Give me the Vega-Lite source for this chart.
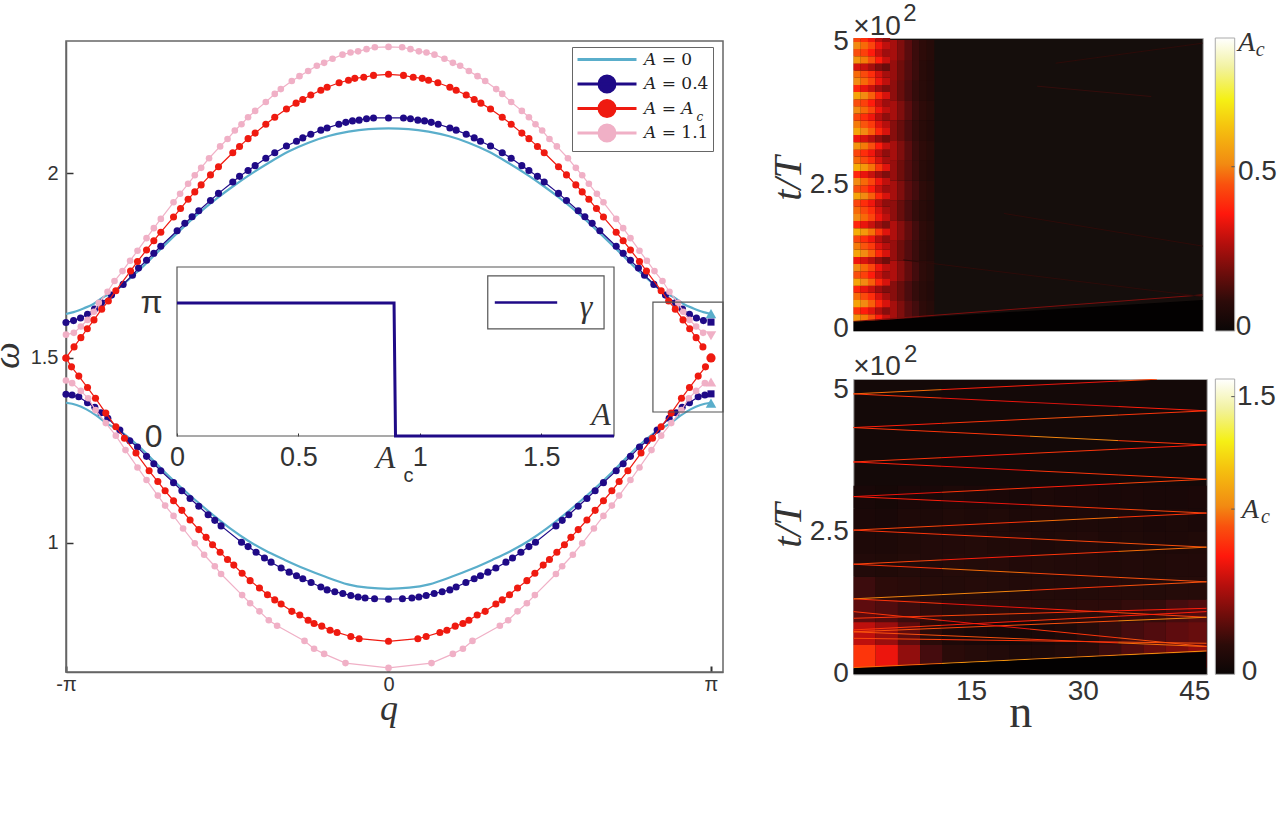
{
"$schema":"https://vega.github.io/schema/vega-lite/v6.json",
"padding":{"left":-12,"top":1,"right":0,"bottom":0},
"background":"white",
"config":{"font":"Liberation Sans","axis":{"grid":false},"legend":{"labelFont":"Liberation Sans"}},
"datasets":{
"one":[{"k":1}],
"keys":[{"s":"𝐴 = 0"},{"s":"𝐴 = 0.4"},{"s":"𝐴 = 𝐴"},{"s":"𝐴 = 1.1"}],
"gamma":[{"A":0,"g":3.1416},{"A":0.894,"g":3.1416},{"A":0.9,"g":0},{"A":1.8,"g":0}],
"cyanU":[{"q":-3.142,"w":1.619},{"q":-3.068,"w":1.624},{"q":-2.971,"w":1.634},{"q":-2.874,"w":1.646},{"q":-2.776,"w":1.665},{"q":-2.679,"w":1.677},{"q":-2.581,"w":1.7},{"q":-2.435,"w":1.736},{"q":-2.24,"w":1.789},{"q":-2.046,"w":1.841},{"q":-1.851,"w":1.891},{"q":-1.656,"w":1.935},{"q":-1.51,"w":1.965},{"q":-1.364,"w":1.993},{"q":-1.169,"w":2.027},{"q":-0.974,"w":2.058},{"q":-0.779,"w":2.082},{"q":-0.584,"w":2.1},{"q":-0.39,"w":2.112},{"q":-0.195,"w":2.119},{"q":0,"w":2.121},{"q":0.195,"w":2.119},{"q":0.39,"w":2.112},{"q":0.584,"w":2.1},{"q":0.779,"w":2.082},{"q":0.974,"w":2.058},{"q":1.169,"w":2.027},{"q":1.364,"w":1.993},{"q":1.51,"w":1.965},{"q":1.656,"w":1.935},{"q":1.851,"w":1.891},{"q":2.046,"w":1.841},{"q":2.24,"w":1.789},{"q":2.435,"w":1.736},{"q":2.581,"w":1.7},{"q":2.679,"w":1.677},{"q":2.776,"w":1.665},{"q":2.874,"w":1.646},{"q":2.971,"w":1.634},{"q":3.068,"w":1.624},{"q":3.142,"w":1.619}],
"cyanL":[{"q":-3.142,"w":1.379},{"q":-3.039,"w":1.373},{"q":-2.942,"w":1.361},{"q":-2.844,"w":1.344},{"q":-2.747,"w":1.324},{"q":-2.617,"w":1.303},{"q":-2.435,"w":1.262},{"q":-2.196,"w":1.196},{"q":-2.001,"w":1.145},{"q":-1.773,"w":1.09},{"q":-1.546,"w":1.04},{"q":-1.368,"w":1.006},{"q":-1.205,"w":0.98},{"q":-1.01,"w":0.954},{"q":-0.815,"w":0.93},{"q":-0.62,"w":0.909},{"q":-0.396,"w":0.888},{"q":-0.202,"w":0.879},{"q":0,"w":0.876},{"q":0.202,"w":0.879},{"q":0.396,"w":0.888},{"q":0.62,"w":0.909},{"q":0.815,"w":0.93},{"q":1.01,"w":0.954},{"q":1.205,"w":0.98},{"q":1.368,"w":1.006},{"q":1.546,"w":1.04},{"q":1.773,"w":1.09},{"q":2.001,"w":1.145},{"q":2.196,"w":1.196},{"q":2.435,"w":1.262},{"q":2.617,"w":1.303},{"q":2.747,"w":1.324},{"q":2.844,"w":1.344},{"q":2.942,"w":1.361},{"q":3.039,"w":1.373},{"q":3.142,"w":1.379}],
"navyU":[{"q":-3.142,"w":1.596},{"q":-3.068,"w":1.601},{"q":-3,"w":1.608},{"q":-2.932,"w":1.618},{"q":-2.864,"w":1.632},{"q":-2.796,"w":1.649},{"q":-2.698,"w":1.67},{"q":-2.585,"w":1.699},{"q":-2.494,"w":1.724},{"q":-2.435,"w":1.743},{"q":-2.357,"w":1.764},{"q":-2.286,"w":1.783},{"q":-2.218,"w":1.802},{"q":-2.059,"w":1.844},{"q":-1.984,"w":1.864},{"q":-1.913,"w":1.882},{"q":-1.848,"w":1.898},{"q":-1.734,"w":1.926},{"q":-1.656,"w":1.945},{"q":-1.517,"w":1.976},{"q":-1.451,"w":1.991},{"q":-1.368,"w":2.007},{"q":-1.299,"w":2.02},{"q":-1.195,"w":2.04},{"q":-1.108,"w":2.055},{"q":-0.994,"w":2.073},{"q":-0.896,"w":2.086},{"q":-0.835,"w":2.095},{"q":-0.757,"w":2.105},{"q":-0.659,"w":2.116},{"q":-0.598,"w":2.122},{"q":-0.484,"w":2.132},{"q":-0.416,"w":2.137},{"q":-0.351,"w":2.141},{"q":-0.286,"w":2.143},{"q":-0.214,"w":2.147},{"q":-0.146,"w":2.149},{"q":0,"w":2.149},{"q":0.146,"w":2.149},{"q":0.214,"w":2.147},{"q":0.286,"w":2.143},{"q":0.351,"w":2.141},{"q":0.416,"w":2.137},{"q":0.484,"w":2.132},{"q":0.598,"w":2.122},{"q":0.659,"w":2.116},{"q":0.757,"w":2.105},{"q":0.835,"w":2.095},{"q":0.896,"w":2.086},{"q":0.994,"w":2.073},{"q":1.108,"w":2.055},{"q":1.195,"w":2.04},{"q":1.299,"w":2.02},{"q":1.368,"w":2.007},{"q":1.451,"w":1.991},{"q":1.517,"w":1.976},{"q":1.656,"w":1.945},{"q":1.734,"w":1.926},{"q":1.848,"w":1.898},{"q":1.913,"w":1.882},{"q":1.984,"w":1.864},{"q":2.059,"w":1.844},{"q":2.218,"w":1.802},{"q":2.286,"w":1.783},{"q":2.357,"w":1.764},{"q":2.435,"w":1.743},{"q":2.494,"w":1.724},{"q":2.585,"w":1.699},{"q":2.698,"w":1.67},{"q":2.796,"w":1.649},{"q":2.864,"w":1.632},{"q":2.932,"w":1.618},{"q":3,"w":1.608},{"q":3.068,"w":1.601}],
"navyL":[{"q":-3.142,"w":1.402},{"q":-3.082,"w":1.4},{"q":-3.017,"w":1.395},{"q":-2.932,"w":1.379},{"q":-2.861,"w":1.367},{"q":-2.802,"w":1.352},{"q":-2.734,"w":1.337},{"q":-2.617,"w":1.305},{"q":-2.52,"w":1.276},{"q":-2.445,"w":1.259},{"q":-2.357,"w":1.234},{"q":-2.286,"w":1.214},{"q":-2.218,"w":1.195},{"q":-2.094,"w":1.163},{"q":-2.013,"w":1.141},{"q":-1.933,"w":1.12},{"q":-1.848,"w":1.099},{"q":-1.757,"w":1.076},{"q":-1.692,"w":1.061},{"q":-1.631,"w":1.046},{"q":-1.432,"w":1.002},{"q":-1.368,"w":0.99},{"q":-1.29,"w":0.975},{"q":-1.208,"w":0.959},{"q":-1.144,"w":0.948},{"q":-1.046,"w":0.932},{"q":-0.968,"w":0.921},{"q":-0.896,"w":0.911},{"q":-0.835,"w":0.903},{"q":-0.754,"w":0.893},{"q":-0.659,"w":0.881},{"q":-0.598,"w":0.873},{"q":-0.523,"w":0.868},{"q":-0.445,"w":0.863},{"q":-0.367,"w":0.858},{"q":-0.296,"w":0.854},{"q":-0.228,"w":0.851},{"q":-0.136,"w":0.849},{"q":0,"w":0.848},{"q":0.136,"w":0.849},{"q":0.228,"w":0.851},{"q":0.296,"w":0.854},{"q":0.367,"w":0.858},{"q":0.445,"w":0.863},{"q":0.523,"w":0.868},{"q":0.598,"w":0.873},{"q":0.659,"w":0.881},{"q":0.754,"w":0.893},{"q":0.835,"w":0.903},{"q":0.896,"w":0.911},{"q":0.968,"w":0.921},{"q":1.046,"w":0.932},{"q":1.144,"w":0.948},{"q":1.208,"w":0.959},{"q":1.29,"w":0.975},{"q":1.368,"w":0.99},{"q":1.432,"w":1.002},{"q":1.631,"w":1.046},{"q":1.692,"w":1.061},{"q":1.757,"w":1.076},{"q":1.848,"w":1.099},{"q":1.933,"w":1.12},{"q":2.013,"w":1.141},{"q":2.094,"w":1.163},{"q":2.218,"w":1.195},{"q":2.286,"w":1.214},{"q":2.357,"w":1.234},{"q":2.445,"w":1.259},{"q":2.52,"w":1.276},{"q":2.617,"w":1.305},{"q":2.734,"w":1.337},{"q":2.802,"w":1.352},{"q":2.861,"w":1.367},{"q":2.932,"w":1.379},{"q":3.017,"w":1.395},{"q":3.082,"w":1.4}],
"redU":[{"q":-3.142,"w":1.5},{"q":-3.063,"w":1.53},{"q":-2.997,"w":1.555},{"q":-2.934,"w":1.579},{"q":-2.869,"w":1.603},{"q":-2.794,"w":1.632},{"q":-2.729,"w":1.654},{"q":-2.656,"w":1.682},{"q":-2.513,"w":1.735},{"q":-2.445,"w":1.761},{"q":-2.357,"w":1.792},{"q":-2.286,"w":1.817},{"q":-2.218,"w":1.84},{"q":-2.094,"w":1.881},{"q":-2.026,"w":1.904},{"q":-1.952,"w":1.929},{"q":-1.887,"w":1.949},{"q":-1.825,"w":1.968},{"q":-1.734,"w":1.995},{"q":-1.656,"w":2.017},{"q":-1.517,"w":2.055},{"q":-1.451,"w":2.072},{"q":-1.368,"w":2.093},{"q":-1.299,"w":2.108},{"q":-1.195,"w":2.132},{"q":-1.108,"w":2.151},{"q":-0.994,"w":2.173},{"q":-0.9,"w":2.189},{"q":-0.835,"w":2.199},{"q":-0.757,"w":2.211},{"q":-0.659,"w":2.224},{"q":-0.598,"w":2.232},{"q":-0.481,"w":2.244},{"q":-0.39,"w":2.251},{"q":-0.328,"w":2.256},{"q":-0.241,"w":2.259},{"q":-0.146,"w":2.264},{"q":0,"w":2.267},{"q":0.146,"w":2.264},{"q":0.241,"w":2.259},{"q":0.328,"w":2.256},{"q":0.39,"w":2.251},{"q":0.481,"w":2.244},{"q":0.598,"w":2.232},{"q":0.659,"w":2.224},{"q":0.757,"w":2.211},{"q":0.835,"w":2.199},{"q":0.9,"w":2.189},{"q":0.994,"w":2.173},{"q":1.108,"w":2.151},{"q":1.195,"w":2.132},{"q":1.299,"w":2.108},{"q":1.368,"w":2.093},{"q":1.451,"w":2.072},{"q":1.517,"w":2.055},{"q":1.656,"w":2.017},{"q":1.734,"w":1.995},{"q":1.825,"w":1.968},{"q":1.887,"w":1.949},{"q":1.952,"w":1.929},{"q":2.026,"w":1.904},{"q":2.094,"w":1.881},{"q":2.218,"w":1.84},{"q":2.286,"w":1.817},{"q":2.357,"w":1.792},{"q":2.445,"w":1.761},{"q":2.513,"w":1.735},{"q":2.656,"w":1.682},{"q":2.729,"w":1.654},{"q":2.794,"w":1.632},{"q":2.869,"w":1.603},{"q":2.934,"w":1.579},{"q":2.997,"w":1.555},{"q":3.063,"w":1.53}],
"redL":[{"q":-3.142,"w":1.5},{"q":-3.088,"w":1.476},{"q":-3.017,"w":1.451},{"q":-2.932,"w":1.42},{"q":-2.854,"w":1.391},{"q":-2.754,"w":1.351},{"q":-2.656,"w":1.314},{"q":-2.572,"w":1.283},{"q":-2.46,"w":1.243},{"q":-2.332,"w":1.195},{"q":-2.247,"w":1.166},{"q":-2.176,"w":1.141},{"q":-2.094,"w":1.114},{"q":-2.013,"w":1.088},{"q":-1.933,"w":1.062},{"q":-1.848,"w":1.036},{"q":-1.777,"w":1.015},{"q":-1.714,"w":0.995},{"q":-1.64,"w":0.975},{"q":-1.568,"w":0.955},{"q":-1.507,"w":0.94},{"q":-1.426,"w":0.918},{"q":-1.348,"w":0.898},{"q":-1.257,"w":0.878},{"q":-1.179,"w":0.86},{"q":-1.108,"w":0.846},{"q":-1.046,"w":0.835},{"q":-0.942,"w":0.815},{"q":-0.864,"w":0.805},{"q":-0.783,"w":0.791},{"q":-0.725,"w":0.782},{"q":-0.65,"w":0.775},{"q":-0.569,"w":0.764},{"q":-0.501,"w":0.758},{"q":-0.367,"w":0.747},{"q":-0.286,"w":0.741},{"q":0,"w":0.734},{"q":0.286,"w":0.741},{"q":0.367,"w":0.747},{"q":0.501,"w":0.758},{"q":0.569,"w":0.764},{"q":0.65,"w":0.775},{"q":0.725,"w":0.782},{"q":0.783,"w":0.791},{"q":0.864,"w":0.805},{"q":0.942,"w":0.815},{"q":1.046,"w":0.835},{"q":1.108,"w":0.846},{"q":1.179,"w":0.86},{"q":1.257,"w":0.878},{"q":1.348,"w":0.898},{"q":1.426,"w":0.918},{"q":1.507,"w":0.94},{"q":1.568,"w":0.955},{"q":1.64,"w":0.975},{"q":1.714,"w":0.995},{"q":1.777,"w":1.015},{"q":1.848,"w":1.036},{"q":1.933,"w":1.062},{"q":2.013,"w":1.088},{"q":2.094,"w":1.114},{"q":2.176,"w":1.141},{"q":2.247,"w":1.166},{"q":2.332,"w":1.195},{"q":2.46,"w":1.243},{"q":2.572,"w":1.283},{"q":2.656,"w":1.314},{"q":2.754,"w":1.351},{"q":2.854,"w":1.391},{"q":2.932,"w":1.42},{"q":3.017,"w":1.451},{"q":3.088,"w":1.476}],
"pinkU":[{"q":-3.142,"w":1.563},{"q":-3.065,"w":1.568},{"q":-2.997,"w":1.585},{"q":-2.932,"w":1.603},{"q":-2.871,"w":1.625},{"q":-2.822,"w":1.649},{"q":-2.737,"w":1.679},{"q":-2.669,"w":1.708},{"q":-2.591,"w":1.735},{"q":-2.517,"w":1.763},{"q":-2.445,"w":1.79},{"q":-2.357,"w":1.824},{"q":-2.286,"w":1.851},{"q":-2.218,"w":1.876},{"q":-2.094,"w":1.921},{"q":-2.03,"w":1.944},{"q":-1.952,"w":1.971},{"q":-1.887,"w":1.994},{"q":-1.825,"w":2.014},{"q":-1.748,"w":2.04},{"q":-1.64,"w":2.072},{"q":-1.568,"w":2.092},{"q":-1.497,"w":2.115},{"q":-1.432,"w":2.132},{"q":-1.368,"w":2.151},{"q":-1.299,"w":2.168},{"q":-1.195,"w":2.192},{"q":-1.108,"w":2.214},{"q":-1.049,"w":2.227},{"q":-0.942,"w":2.249},{"q":-0.867,"w":2.262},{"q":-0.783,"w":2.276},{"q":-0.698,"w":2.29},{"q":-0.627,"w":2.298},{"q":-0.545,"w":2.309},{"q":-0.448,"w":2.32},{"q":-0.37,"w":2.326},{"q":-0.296,"w":2.329},{"q":-0.214,"w":2.335},{"q":-0.133,"w":2.34},{"q":0,"w":2.341},{"q":0.133,"w":2.34},{"q":0.214,"w":2.335},{"q":0.296,"w":2.329},{"q":0.37,"w":2.326},{"q":0.448,"w":2.32},{"q":0.545,"w":2.309},{"q":0.627,"w":2.298},{"q":0.698,"w":2.29},{"q":0.783,"w":2.276},{"q":0.867,"w":2.262},{"q":0.942,"w":2.249},{"q":1.049,"w":2.227},{"q":1.108,"w":2.214},{"q":1.195,"w":2.192},{"q":1.299,"w":2.168},{"q":1.368,"w":2.151},{"q":1.432,"w":2.132},{"q":1.497,"w":2.115},{"q":1.568,"w":2.092},{"q":1.64,"w":2.072},{"q":1.748,"w":2.04},{"q":1.825,"w":2.014},{"q":1.887,"w":1.994},{"q":1.952,"w":1.971},{"q":2.03,"w":1.944},{"q":2.094,"w":1.921},{"q":2.218,"w":1.876},{"q":2.286,"w":1.851},{"q":2.357,"w":1.824},{"q":2.445,"w":1.79},{"q":2.517,"w":1.763},{"q":2.591,"w":1.735},{"q":2.669,"w":1.708},{"q":2.737,"w":1.679},{"q":2.822,"w":1.649},{"q":2.871,"w":1.625},{"q":2.932,"w":1.603},{"q":2.997,"w":1.585},{"q":3.065,"w":1.568}],
"pinkL":[{"q":-3.142,"w":1.439},{"q":-3.082,"w":1.432},{"q":-2.997,"w":1.411},{"q":-2.926,"w":1.391},{"q":-2.854,"w":1.359},{"q":-2.754,"w":1.324},{"q":-2.656,"w":1.29},{"q":-2.562,"w":1.251},{"q":-2.445,"w":1.204},{"q":-2.357,"w":1.17},{"q":-2.247,"w":1.128},{"q":-2.176,"w":1.101},{"q":-2.094,"w":1.073},{"q":-2.001,"w":1.039},{"q":-1.887,"w":0.999},{"q":-1.796,"w":0.968},{"q":-1.692,"w":0.937},{"q":-1.631,"w":0.916},{"q":-1.426,"w":0.859},{"q":-1.348,"w":0.837},{"q":-1.257,"w":0.815},{"q":-1.166,"w":0.791},{"q":-1.085,"w":0.776},{"q":-0.818,"w":0.735},{"q":-0.725,"w":0.714},{"q":-0.627,"w":0.7},{"q":-0.419,"w":0.675},{"q":0,"w":0.662},{"q":0.419,"w":0.675},{"q":0.627,"w":0.7},{"q":0.725,"w":0.714},{"q":0.818,"w":0.735},{"q":1.085,"w":0.776},{"q":1.166,"w":0.791},{"q":1.257,"w":0.815},{"q":1.348,"w":0.837},{"q":1.426,"w":0.859},{"q":1.631,"w":0.916},{"q":1.692,"w":0.937},{"q":1.796,"w":0.968},{"q":1.887,"w":0.999},{"q":2.001,"w":1.039},{"q":2.094,"w":1.073},{"q":2.176,"w":1.101},{"q":2.247,"w":1.128},{"q":2.357,"w":1.17},{"q":2.445,"w":1.204},{"q":2.562,"w":1.251},{"q":2.656,"w":1.29},{"q":2.754,"w":1.324},{"q":2.854,"w":1.359},{"q":2.926,"w":1.391},{"q":2.997,"w":1.411},{"q":3.082,"w":1.432}],
"topFine":[
{"n":0,"t":0.18,"v":0.53},{"n":1,"t":0.18,"v":0.49},{"n":2,"t":0.18,"v":0.44},{"n":3,"t":0.18,"v":0.36},{"n":4,"t":0.18,"v":0.29},
{"n":0,"t":0.305,"v":0.39},{"n":1,"t":0.305,"v":0.36},{"n":2,"t":0.305,"v":0.32},{"n":3,"t":0.305,"v":0.26},{"n":4,"t":0.305,"v":0.21},
{"n":0,"t":0.43,"v":0.56},{"n":1,"t":0.43,"v":0.51},{"n":2,"t":0.43,"v":0.46},{"n":3,"t":0.43,"v":0.37},{"n":4,"t":0.43,"v":0.31},
{"n":0,"t":0.555,"v":0.47},{"n":1,"t":0.555,"v":0.43},{"n":2,"t":0.555,"v":0.38},{"n":3,"t":0.555,"v":0.31},{"n":4,"t":0.555,"v":0.25},
{"n":0,"t":0.68,"v":0.37},{"n":1,"t":0.68,"v":0.33},{"n":2,"t":0.68,"v":0.29},{"n":3,"t":0.68,"v":0.24},{"n":4,"t":0.68,"v":0.2},
{"n":0,"t":0.805,"v":0.56},{"n":1,"t":0.805,"v":0.51},{"n":2,"t":0.805,"v":0.46},{"n":3,"t":0.805,"v":0.37},{"n":4,"t":0.805,"v":0.31},
{"n":0,"t":0.93,"v":0.44},{"n":1,"t":0.93,"v":0.41},{"n":2,"t":0.93,"v":0.36},{"n":3,"t":0.93,"v":0.29},{"n":4,"t":0.93,"v":0.24},
{"n":0,"t":1.055,"v":0.51},{"n":1,"t":1.055,"v":0.47},{"n":2,"t":1.055,"v":0.42},{"n":3,"t":1.055,"v":0.34},{"n":4,"t":1.055,"v":0.28},
{"n":0,"t":1.18,"v":0.34},{"n":1,"t":1.18,"v":0.31},{"n":2,"t":1.18,"v":0.27},{"n":3,"t":1.18,"v":0.22},{"n":4,"t":1.18,"v":0.18},
{"n":0,"t":1.305,"v":0.56},{"n":1,"t":1.305,"v":0.51},{"n":2,"t":1.305,"v":0.46},{"n":3,"t":1.305,"v":0.37},{"n":4,"t":1.305,"v":0.31},
{"n":0,"t":1.43,"v":0.49},{"n":1,"t":1.43,"v":0.45},{"n":2,"t":1.43,"v":0.4},{"n":3,"t":1.43,"v":0.32},{"n":4,"t":1.43,"v":0.27},
{"n":0,"t":1.555,"v":0.42},{"n":1,"t":1.555,"v":0.38},{"n":2,"t":1.555,"v":0.34},{"n":3,"t":1.555,"v":0.27},{"n":4,"t":1.555,"v":0.22},
{"n":0,"t":1.68,"v":0.58},{"n":1,"t":1.68,"v":0.54},{"n":2,"t":1.68,"v":0.48},{"n":3,"t":1.68,"v":0.39},{"n":4,"t":1.68,"v":0.32},
{"n":0,"t":1.805,"v":0.37},{"n":1,"t":1.805,"v":0.33},{"n":2,"t":1.805,"v":0.29},{"n":3,"t":1.805,"v":0.24},{"n":4,"t":1.805,"v":0.2},
{"n":0,"t":1.93,"v":0.51},{"n":1,"t":1.93,"v":0.47},{"n":2,"t":1.93,"v":0.42},{"n":3,"t":1.93,"v":0.34},{"n":4,"t":1.93,"v":0.28},
{"n":0,"t":2.055,"v":0.47},{"n":1,"t":2.055,"v":0.43},{"n":2,"t":2.055,"v":0.38},{"n":3,"t":2.055,"v":0.31},{"n":4,"t":2.055,"v":0.25},
{"n":0,"t":2.18,"v":0.42},{"n":1,"t":2.18,"v":0.38},{"n":2,"t":2.18,"v":0.34},{"n":3,"t":2.18,"v":0.27},{"n":4,"t":2.18,"v":0.22},
{"n":0,"t":2.305,"v":0.56},{"n":1,"t":2.305,"v":0.51},{"n":2,"t":2.305,"v":0.46},{"n":3,"t":2.305,"v":0.37},{"n":4,"t":2.305,"v":0.31},
{"n":0,"t":2.43,"v":0.44},{"n":1,"t":2.43,"v":0.41},{"n":2,"t":2.43,"v":0.36},{"n":3,"t":2.43,"v":0.29},{"n":4,"t":2.43,"v":0.24},
{"n":0,"t":2.555,"v":0.51},{"n":1,"t":2.555,"v":0.47},{"n":2,"t":2.555,"v":0.42},{"n":3,"t":2.555,"v":0.34},{"n":4,"t":2.555,"v":0.28},
{"n":0,"t":2.68,"v":0.37},{"n":1,"t":2.68,"v":0.33},{"n":2,"t":2.68,"v":0.29},{"n":3,"t":2.68,"v":0.24},{"n":4,"t":2.68,"v":0.2},
{"n":0,"t":2.805,"v":0.58},{"n":1,"t":2.805,"v":0.54},{"n":2,"t":2.805,"v":0.48},{"n":3,"t":2.805,"v":0.39},{"n":4,"t":2.805,"v":0.32},
{"n":0,"t":2.93,"v":0.47},{"n":1,"t":2.93,"v":0.43},{"n":2,"t":2.93,"v":0.38},{"n":3,"t":2.93,"v":0.31},{"n":4,"t":2.93,"v":0.25},
{"n":0,"t":3.055,"v":0.42},{"n":1,"t":3.055,"v":0.38},{"n":2,"t":3.055,"v":0.34},{"n":3,"t":3.055,"v":0.27},{"n":4,"t":3.055,"v":0.22},
{"n":0,"t":3.18,"v":0.53},{"n":1,"t":3.18,"v":0.49},{"n":2,"t":3.18,"v":0.44},{"n":3,"t":3.18,"v":0.36},{"n":4,"t":3.18,"v":0.29},
{"n":0,"t":3.305,"v":0.34},{"n":1,"t":3.305,"v":0.31},{"n":2,"t":3.305,"v":0.27},{"n":3,"t":3.305,"v":0.22},{"n":4,"t":3.305,"v":0.18},
{"n":0,"t":3.43,"v":0.56},{"n":1,"t":3.43,"v":0.51},{"n":2,"t":3.43,"v":0.46},{"n":3,"t":3.43,"v":0.37},{"n":4,"t":3.43,"v":0.31},
{"n":0,"t":3.555,"v":0.49},{"n":1,"t":3.555,"v":0.45},{"n":2,"t":3.555,"v":0.4},{"n":3,"t":3.555,"v":0.32},{"n":4,"t":3.555,"v":0.27},
{"n":0,"t":3.68,"v":0.42},{"n":1,"t":3.68,"v":0.38},{"n":2,"t":3.68,"v":0.34},{"n":3,"t":3.68,"v":0.27},{"n":4,"t":3.68,"v":0.22},
{"n":0,"t":3.805,"v":0.51},{"n":1,"t":3.805,"v":0.47},{"n":2,"t":3.805,"v":0.42},{"n":3,"t":3.805,"v":0.34},{"n":4,"t":3.805,"v":0.28},
{"n":0,"t":3.93,"v":0.44},{"n":1,"t":3.93,"v":0.41},{"n":2,"t":3.93,"v":0.36},{"n":3,"t":3.93,"v":0.29},{"n":4,"t":3.93,"v":0.24},
{"n":0,"t":4.055,"v":0.56},{"n":1,"t":4.055,"v":0.51},{"n":2,"t":4.055,"v":0.46},{"n":3,"t":4.055,"v":0.37},{"n":4,"t":4.055,"v":0.31},
{"n":0,"t":4.18,"v":0.37},{"n":1,"t":4.18,"v":0.33},{"n":2,"t":4.18,"v":0.29},{"n":3,"t":4.18,"v":0.24},{"n":4,"t":4.18,"v":0.2},
{"n":0,"t":4.305,"v":0.51},{"n":1,"t":4.305,"v":0.47},{"n":2,"t":4.305,"v":0.42},{"n":3,"t":4.305,"v":0.34},{"n":4,"t":4.305,"v":0.28},
{"n":0,"t":4.43,"v":0.47},{"n":1,"t":4.43,"v":0.43},{"n":2,"t":4.43,"v":0.38},{"n":3,"t":4.43,"v":0.31},{"n":4,"t":4.43,"v":0.25},
{"n":0,"t":4.555,"v":0.31},{"n":1,"t":4.555,"v":0.29},{"n":2,"t":4.555,"v":0.25},{"n":3,"t":4.555,"v":0.2},{"n":4,"t":4.555,"v":0.17},
{"n":0,"t":4.68,"v":0.53},{"n":1,"t":4.68,"v":0.49},{"n":2,"t":4.68,"v":0.44},{"n":3,"t":4.68,"v":0.36},{"n":4,"t":4.68,"v":0.29},
{"n":0,"t":4.805,"v":0.44},{"n":1,"t":4.805,"v":0.41},{"n":2,"t":4.805,"v":0.36},{"n":3,"t":4.805,"v":0.29},{"n":4,"t":4.805,"v":0.24},
{"n":0,"t":4.93,"v":0.51},{"n":1,"t":4.93,"v":0.47},{"n":2,"t":4.93,"v":0.42},{"n":3,"t":4.93,"v":0.34},{"n":4,"t":4.93,"v":0.28},
{"n":0,"t":5.055,"v":0.42},{"n":1,"t":5.055,"v":0.38},{"n":2,"t":5.055,"v":0.34},{"n":3,"t":5.055,"v":0.27},{"n":4,"t":5.055,"v":0.22}
],
"topCoarse":[
{"n":5,"t":0.3,"v":0.25},{"n":6,"t":0.3,"v":0.2},{"n":7,"t":0.3,"v":0.15},{"n":8,"t":0.3,"v":0.12},{"n":9,"t":0.3,"v":0.09},{"n":10,"t":0.3,"v":0.07},
{"n":5,"t":0.65,"v":0.21},{"n":6,"t":0.65,"v":0.17},{"n":7,"t":0.65,"v":0.13},{"n":8,"t":0.65,"v":0.1},{"n":9,"t":0.65,"v":0.08},{"n":10,"t":0.65,"v":0.06},
{"n":5,"t":1.0,"v":0.26},{"n":6,"t":1.0,"v":0.21},{"n":7,"t":1.0,"v":0.16},{"n":8,"t":1.0,"v":0.12},{"n":9,"t":1.0,"v":0.09},{"n":10,"t":1.0,"v":0.07},
{"n":5,"t":1.35,"v":0.23},{"n":6,"t":1.35,"v":0.18},{"n":7,"t":1.35,"v":0.14},{"n":8,"t":1.35,"v":0.11},{"n":9,"t":1.35,"v":0.08},{"n":10,"t":1.35,"v":0.06},
{"n":5,"t":1.7,"v":0.26},{"n":6,"t":1.7,"v":0.21},{"n":7,"t":1.7,"v":0.16},{"n":8,"t":1.7,"v":0.12},{"n":9,"t":1.7,"v":0.09},{"n":10,"t":1.7,"v":0.07},
{"n":5,"t":2.05,"v":0.22},{"n":6,"t":2.05,"v":0.17},{"n":7,"t":2.05,"v":0.13},{"n":8,"t":2.05,"v":0.1},{"n":9,"t":2.05,"v":0.08},{"n":10,"t":2.05,"v":0.06},
{"n":5,"t":2.4,"v":0.25},{"n":6,"t":2.4,"v":0.2},{"n":7,"t":2.4,"v":0.15},{"n":8,"t":2.4,"v":0.12},{"n":9,"t":2.4,"v":0.09},{"n":10,"t":2.4,"v":0.07},
{"n":5,"t":2.75,"v":0.23},{"n":6,"t":2.75,"v":0.18},{"n":7,"t":2.75,"v":0.14},{"n":8,"t":2.75,"v":0.11},{"n":9,"t":2.75,"v":0.08},{"n":10,"t":2.75,"v":0.06},
{"n":5,"t":3.1,"v":0.25},{"n":6,"t":3.1,"v":0.2},{"n":7,"t":3.1,"v":0.15},{"n":8,"t":3.1,"v":0.11},{"n":9,"t":3.1,"v":0.09},{"n":10,"t":3.1,"v":0.07},
{"n":5,"t":3.45,"v":0.21},{"n":6,"t":3.45,"v":0.17},{"n":7,"t":3.45,"v":0.13},{"n":8,"t":3.45,"v":0.1},{"n":9,"t":3.45,"v":0.08},{"n":10,"t":3.45,"v":0.06},
{"n":5,"t":3.8,"v":0.25},{"n":6,"t":3.8,"v":0.2},{"n":7,"t":3.8,"v":0.15},{"n":8,"t":3.8,"v":0.11},{"n":9,"t":3.8,"v":0.09},{"n":10,"t":3.8,"v":0.07},
{"n":5,"t":4.15,"v":0.22},{"n":6,"t":4.15,"v":0.17},{"n":7,"t":4.15,"v":0.13},{"n":8,"t":4.15,"v":0.1},{"n":9,"t":4.15,"v":0.08},{"n":10,"t":4.15,"v":0.06},
{"n":5,"t":4.5,"v":0.23},{"n":6,"t":4.5,"v":0.18},{"n":7,"t":4.5,"v":0.14},{"n":8,"t":4.5,"v":0.11},{"n":9,"t":4.5,"v":0.08},{"n":10,"t":4.5,"v":0.06},
{"n":5,"t":4.85,"v":0.25},{"n":6,"t":4.85,"v":0.2},{"n":7,"t":4.85,"v":0.15},{"n":8,"t":4.85,"v":0.11},{"n":9,"t":4.85,"v":0.09},{"n":10,"t":4.85,"v":0.07}
],
"topRays":[
{"a":-0.5,"b":47,"t":0.116,"u":0.58,"v":0.2},
{"a":6.3,"b":47,"t":1.19,"u":0.55,"v":0.09},
{"a":20,"b":47,"t":2.0,"u":1.43,"v":0.09},
{"a":24.5,"b":40,"t":4.22,"u":4.04,"v":0.1},
{"a":27,"b":47,"t":4.62,"u":4.97,"v":0.09}
],
"botCells":[
{"n":1,"t":0.3,"v":0.7},{"n":4,"t":0.3,"v":0.6},{"n":7,"t":0.3,"v":0.4},{"n":10,"t":0.3,"v":0.22},{"n":13,"t":0.3,"v":0.15},{"n":16,"t":0.3,"v":0.12},{"n":19,"t":0.3,"v":0.1},{"n":22,"t":0.3,"v":0.08},{"n":25,"t":0.3,"v":0.08},{"n":28,"t":0.3,"v":0.1},{"n":31,"t":0.3,"v":0.15},{"n":34,"t":0.3,"v":0.2},{"n":37,"t":0.3,"v":0.25},{"n":40,"t":0.3,"v":0.3},{"n":43,"t":0.3,"v":0.35},{"n":46,"t":0.3,"v":0.4},
{"n":1,"t":0.7,"v":0.5},{"n":4,"t":0.7,"v":0.42},{"n":7,"t":0.7,"v":0.28},{"n":10,"t":0.7,"v":0.15},{"n":13,"t":0.7,"v":0.08},{"n":16,"t":0.7,"v":0.05},{"n":19,"t":0.7,"v":0.04},{"n":22,"t":0.7,"v":0.04},{"n":25,"t":0.7,"v":0.05},{"n":28,"t":0.7,"v":0.08},{"n":31,"t":0.7,"v":0.13},{"n":34,"t":0.7,"v":0.18},{"n":37,"t":0.7,"v":0.22},{"n":40,"t":0.7,"v":0.25},{"n":43,"t":0.7,"v":0.28},{"n":46,"t":0.7,"v":0.3},
{"n":1,"t":1.1,"v":0.28},{"n":4,"t":1.1,"v":0.25},{"n":7,"t":1.1,"v":0.2},{"n":10,"t":1.1,"v":0.17},{"n":13,"t":1.1,"v":0.15},{"n":16,"t":1.1,"v":0.16},{"n":19,"t":1.1,"v":0.15},{"n":22,"t":1.1,"v":0.15},{"n":25,"t":1.1,"v":0.13},{"n":28,"t":1.1,"v":0.15},{"n":31,"t":1.1,"v":0.16},{"n":34,"t":1.1,"v":0.16},{"n":37,"t":1.1,"v":0.18},{"n":40,"t":1.1,"v":0.18},{"n":43,"t":1.1,"v":0.22},{"n":46,"t":1.1,"v":0.25},
{"n":1,"t":1.5,"v":0.2},{"n":4,"t":1.5,"v":0.16},{"n":7,"t":1.5,"v":0.14},{"n":10,"t":1.5,"v":0.12},{"n":13,"t":1.5,"v":0.11},{"n":16,"t":1.5,"v":0.12},{"n":19,"t":1.5,"v":0.11},{"n":22,"t":1.5,"v":0.1},{"n":25,"t":1.5,"v":0.11},{"n":28,"t":1.5,"v":0.1},{"n":31,"t":1.5,"v":0.11},{"n":34,"t":1.5,"v":0.12},{"n":37,"t":1.5,"v":0.12},{"n":40,"t":1.5,"v":0.11},{"n":43,"t":1.5,"v":0.12},{"n":46,"t":1.5,"v":0.12},
{"n":1,"t":1.9,"v":0.1},{"n":4,"t":1.9,"v":0.09},{"n":7,"t":1.9,"v":0.11},{"n":10,"t":1.9,"v":0.1},{"n":13,"t":1.9,"v":0.12},{"n":16,"t":1.9,"v":0.11},{"n":19,"t":1.9,"v":0.12},{"n":22,"t":1.9,"v":0.1},{"n":25,"t":1.9,"v":0.11},{"n":28,"t":1.9,"v":0.1},{"n":31,"t":1.9,"v":0.1},{"n":34,"t":1.9,"v":0.09},{"n":37,"t":1.9,"v":0.1},{"n":40,"t":1.9,"v":0.09},{"n":43,"t":1.9,"v":0.1},{"n":46,"t":1.9,"v":0.1},
{"n":1,"t":2.3,"v":0.08},{"n":4,"t":2.3,"v":0.07},{"n":7,"t":2.3,"v":0.09},{"n":10,"t":2.3,"v":0.1},{"n":13,"t":2.3,"v":0.1},{"n":16,"t":2.3,"v":0.11},{"n":19,"t":2.3,"v":0.09},{"n":22,"t":2.3,"v":0.1},{"n":25,"t":2.3,"v":0.08},{"n":28,"t":2.3,"v":0.09},{"n":31,"t":2.3,"v":0.1},{"n":34,"t":2.3,"v":0.08},{"n":37,"t":2.3,"v":0.09},{"n":40,"t":2.3,"v":0.08},{"n":43,"t":2.3,"v":0.08},{"n":46,"t":2.3,"v":0.09},
{"n":1,"t":2.7,"v":0.06},{"n":4,"t":2.7,"v":0.05},{"n":7,"t":2.7,"v":0.08},{"n":10,"t":2.7,"v":0.07},{"n":13,"t":2.7,"v":0.09},{"n":16,"t":2.7,"v":0.08},{"n":19,"t":2.7,"v":0.09},{"n":22,"t":2.7,"v":0.07},{"n":25,"t":2.7,"v":0.08},{"n":28,"t":2.7,"v":0.07},{"n":31,"t":2.7,"v":0.08},{"n":34,"t":2.7,"v":0.07},{"n":37,"t":2.7,"v":0.08},{"n":40,"t":2.7,"v":0.06},{"n":43,"t":2.7,"v":0.07},{"n":46,"t":2.7,"v":0.06},
{"n":1,"t":3.1,"v":0.05},{"n":4,"t":3.1,"v":0.04},{"n":7,"t":3.1,"v":0.06},{"n":10,"t":3.1,"v":0.05},{"n":13,"t":3.1,"v":0.07},{"n":16,"t":3.1,"v":0.06},{"n":19,"t":3.1,"v":0.06},{"n":22,"t":3.1,"v":0.05},{"n":25,"t":3.1,"v":0.07},{"n":28,"t":3.1,"v":0.06},{"n":31,"t":3.1,"v":0.06},{"n":34,"t":3.1,"v":0.05},{"n":37,"t":3.1,"v":0.06},{"n":40,"t":3.1,"v":0.05},{"n":43,"t":3.1,"v":0.05},{"n":46,"t":3.1,"v":0.06}
],
"botRays":[
{"a":-0.5,"b":11.4,"t":4.918,"u":4.993,"v":0.85},{"a":11.4,"b":23.25,"t":4.993,"u":5.068,"v":0.65},{"a":23.25,"b":35.1,"t":5.068,"u":5.143,"v":0.6},{"a":35.1,"b":40.3,"t":5.143,"u":5.176,"v":0.75},
{"a":-0.5,"b":11.4,"t":4.918,"u":4.844,"v":0.7},{"a":11.4,"b":23.25,"t":4.844,"u":4.769,"v":0.6},{"a":23.25,"b":35.1,"t":4.769,"u":4.695,"v":0.55},{"a":35.1,"b":47,"t":4.695,"u":4.62,"v":0.65},
{"a":-0.5,"b":11.4,"t":4.325,"u":4.399,"v":0.65},{"a":11.4,"b":23.25,"t":4.399,"u":4.473,"v":0.7},{"a":23.25,"b":35.1,"t":4.473,"u":4.546,"v":0.8},{"a":35.1,"b":47,"t":4.546,"u":4.62,"v":0.7},
{"a":-0.5,"b":11.4,"t":4.325,"u":4.249,"v":0.7},{"a":11.4,"b":23.25,"t":4.249,"u":4.173,"v":0.7},{"a":23.25,"b":35.1,"t":4.173,"u":4.096,"v":0.9},{"a":35.1,"b":47,"t":4.096,"u":4.02,"v":0.7},
{"a":-0.5,"b":11.4,"t":3.72,"u":3.795,"v":0.7},{"a":11.4,"b":23.25,"t":3.795,"u":3.87,"v":0.65},{"a":23.25,"b":35.1,"t":3.87,"u":3.945,"v":0.7},{"a":35.1,"b":47,"t":3.945,"u":4.02,"v":0.65},
{"a":-0.5,"b":11.4,"t":3.72,"u":3.644,"v":0.65},{"a":11.4,"b":23.25,"t":3.644,"u":3.568,"v":0.6},{"a":23.25,"b":35.1,"t":3.568,"u":3.491,"v":0.7},{"a":35.1,"b":47,"t":3.491,"u":3.415,"v":0.7},
{"a":-0.5,"b":11.4,"t":3.11,"u":3.186,"v":0.6},{"a":11.4,"b":23.25,"t":3.186,"u":3.263,"v":0.7},{"a":23.25,"b":35.1,"t":3.263,"u":3.339,"v":0.65},{"a":35.1,"b":47,"t":3.339,"u":3.415,"v":0.75},
{"a":-0.5,"b":11.4,"t":3.11,"u":3.038,"v":0.65},{"a":11.4,"b":23.25,"t":3.038,"u":2.965,"v":0.6},{"a":23.25,"b":35.1,"t":2.965,"u":2.893,"v":0.7},{"a":35.1,"b":47,"t":2.893,"u":2.82,"v":0.75},
{"a":-0.5,"b":11.4,"t":2.52,"u":2.595,"v":0.75},{"a":11.4,"b":23.25,"t":2.595,"u":2.67,"v":0.7},{"a":23.25,"b":35.1,"t":2.67,"u":2.745,"v":0.85},{"a":35.1,"b":47,"t":2.745,"u":2.82,"v":0.7},
{"a":-0.5,"b":11.4,"t":2.52,"u":2.445,"v":0.7},{"a":11.4,"b":23.25,"t":2.445,"u":2.37,"v":0.7},{"a":23.25,"b":35.1,"t":2.37,"u":2.295,"v":0.75},{"a":35.1,"b":47,"t":2.295,"u":2.22,"v":0.8},
{"a":-0.5,"b":11.4,"t":1.92,"u":1.995,"v":0.75},{"a":11.4,"b":23.25,"t":1.995,"u":2.07,"v":0.65},{"a":23.25,"b":35.1,"t":2.07,"u":2.145,"v":0.7},{"a":35.1,"b":47,"t":2.145,"u":2.22,"v":0.85},
{"a":-0.5,"b":11.4,"t":1.92,"u":1.843,"v":0.7},{"a":11.4,"b":23.25,"t":1.843,"u":1.765,"v":0.85},{"a":23.25,"b":35.1,"t":1.765,"u":1.688,"v":0.75},{"a":35.1,"b":47,"t":1.688,"u":1.61,"v":0.8},
{"a":-0.5,"b":11.4,"t":1.31,"u":1.385,"v":0.9},{"a":11.4,"b":23.25,"t":1.385,"u":1.46,"v":0.9},{"a":23.25,"b":35.1,"t":1.46,"u":1.535,"v":0.7},{"a":35.1,"b":47,"t":1.535,"u":1.61,"v":0.8},
{"a":-0.5,"b":11.4,"t":1.31,"u":1.229,"v":0.7},{"a":11.4,"b":23.25,"t":1.229,"u":1.148,"v":0.6},{"a":23.25,"b":35.1,"t":1.148,"u":1.067,"v":0.65},{"a":35.1,"b":47,"t":1.067,"u":0.986,"v":0.75},
{"a":-0.5,"b":11.4,"t":0.73,"u":0.794,"v":0.8},{"a":11.4,"b":23.25,"t":0.794,"u":0.858,"v":0.75},{"a":23.25,"b":35.1,"t":0.858,"u":0.922,"v":0.8},{"a":35.1,"b":47,"t":0.922,"u":0.986,"v":0.9},
{"a":-0.5,"b":11.4,"t":0.73,"u":0.665,"v":0.8},{"a":11.4,"b":23.25,"t":0.665,"u":0.6,"v":0.8},{"a":23.25,"b":35.1,"t":0.6,"u":0.535,"v":0.7},{"a":35.1,"b":47,"t":0.535,"u":0.47,"v":0.85},
{"a":-0.5,"b":11.4,"t":0.968,"u":1.012,"v":0.7},{"a":11.4,"b":23.25,"t":1.012,"u":1.056,"v":0.75},{"a":23.25,"b":35.1,"t":1.056,"u":1.1,"v":0.7},{"a":35.1,"b":47,"t":1.1,"u":1.144,"v":0.65},
{"a":-0.5,"b":11.4,"t":1.086,"u":0.932,"v":0.7},{"a":11.4,"b":23.25,"t":0.932,"u":0.778,"v":0.6},{"a":23.25,"b":35.1,"t":0.778,"u":0.624,"v":0.7},{"a":35.1,"b":47,"t":0.624,"u":0.47,"v":0.8},
{"a":-0.5,"b":11.4,"t":0.763,"u":0.844,"v":0.7},{"a":11.4,"b":23.25,"t":0.844,"u":0.925,"v":0.65},{"a":23.25,"b":35.1,"t":0.925,"u":1.005,"v":0.7},{"a":35.1,"b":47,"t":1.005,"u":1.086,"v":0.65},
{"a":-0.5,"b":11.4,"t":0.616,"u":0.594,"v":0.75},{"a":11.4,"b":23.25,"t":0.594,"u":0.572,"v":0.7},{"a":23.25,"b":35.1,"t":0.572,"u":0.55,"v":0.7},{"a":35.1,"b":47,"t":0.55,"u":0.528,"v":0.8},
{"a":-0.5,"b":11.4,"t":0.1,"u":0.173,"v":0.85},{"a":11.4,"b":23.25,"t":0.173,"u":0.247,"v":0.95},{"a":23.25,"b":35.1,"t":0.247,"u":0.32,"v":0.9},{"a":35.1,"b":47,"t":0.32,"u":0.393,"v":0.95}
]
},
"hconcat":[
{
"width":657,"height":634,
"view":{"stroke":null},
"layer":[
{
"layer":[
{"data":{"name":"one"},"mark":{"type":"rect","filled":false,"stroke":"#666666","strokeWidth":1.5},
"encoding":{"x":{"datum":-3.1416,"type":"quantitative"},"x2":{"datum":3.2586},"y":{"datum":0.651,"type":"quantitative"},"y2":{"datum":2.357}}},
{"data":{"name":"cyanU"},"mark":{"type":"line","stroke":"#5aaecb","strokeWidth":2.2,"interpolate":"monotone"},
"encoding":{
"x":{"field":"q","type":"quantitative","scale":{"domain":[-3.1416,3.2586],"nice":false,"zero":false},
"axis":{"orient":"bottom","title":"q","titleFont":"Liberation Serif","titleFontStyle":"italic","titleFontWeight":"normal","titleFontSize":36,"titleColor":"#333333","titleBaseline":"middle","titleX":322.5,"titleY":36,"values":[-3.1416,0,3.1416],"labelExpr":"datum.value<-1?'-π':datum.value>1?'π':'0'","labelFontSize":20,"labelColor":"#333333","labelPadding":8,"tickSize":-6,"tickColor":"#333333","tickWidth":2,"domainColor":"#666666","domainWidth":1.5,"labelFlush":false}},
"y":{"field":"w","type":"quantitative","scale":{"domain":[0.651,2.357],"range":[634,3],"nice":false,"zero":false},
"axis":{"orient":"left","title":"ω","titleFont":"Liberation Serif","titleFontStyle":"italic","titleFontWeight":"normal","titleFontSize":38,"titleColor":"#333333","titleBaseline":"middle","titleX":-59,"titleY":317,"values":[1,1.5,2],"labelExpr":"datum.value==1.5?'1.5':format(datum.value,'d')","labelFontSize":20,"labelColor":"#333333","labelPadding":15,"tickSize":-7,"tickColor":"#333333","tickWidth":1.5,"domainColor":"#666666","domainWidth":1.5}}
}},
{"data":{"name":"cyanL"},"mark":{"type":"line","stroke":"#5aaecb","strokeWidth":2.2,"interpolate":"monotone"},"encoding":{"x":{"field":"q","type":"quantitative"},"y":{"field":"w","type":"quantitative"}}},
{"data":{"name":"navyU"},"mark":{"type":"line","stroke":"#1f0a87","strokeWidth":1.2,"point":{"filled":true,"size":50,"color":"#1f0a87","opacity":1}},"encoding":{"x":{"field":"q","type":"quantitative"},"y":{"field":"w","type":"quantitative"}}},
{"data":{"name":"navyL"},"mark":{"type":"line","stroke":"#1f0a87","strokeWidth":1.2,"point":{"filled":true,"size":50,"color":"#1f0a87","opacity":1}},"encoding":{"x":{"field":"q","type":"quantitative"},"y":{"field":"w","type":"quantitative"}}},
{"data":{"name":"pinkU"},"mark":{"type":"line","stroke":"#f0b0c6","strokeWidth":1.2,"point":{"filled":true,"size":44,"color":"#f0b0c6","opacity":1}},"encoding":{"x":{"field":"q","type":"quantitative"},"y":{"field":"w","type":"quantitative"}}},
{"data":{"name":"pinkL"},"mark":{"type":"line","stroke":"#f0b0c6","strokeWidth":1.2,"point":{"filled":true,"size":44,"color":"#f0b0c6","opacity":1}},"encoding":{"x":{"field":"q","type":"quantitative"},"y":{"field":"w","type":"quantitative"}}},
{"data":{"name":"redU"},"mark":{"type":"line","stroke":"#ef1a10","strokeWidth":1.2,"point":{"filled":true,"size":50,"color":"#ef1a10","opacity":1}},"encoding":{"x":{"field":"q","type":"quantitative"},"y":{"field":"w","type":"quantitative"}}},
{"data":{"name":"redL"},"mark":{"type":"line","stroke":"#ef1a10","strokeWidth":1.2,"point":{"filled":true,"size":50,"color":"#ef1a10","opacity":1}},"encoding":{"x":{"field":"q","type":"quantitative"},"y":{"field":"w","type":"quantitative"}}},
{"data":{"values":[{"q":3.1416,"w":1.62},{"q":3.1416,"w":1.378}]},"mark":{"type":"point","filled":true,"shape":"triangle-up","size":110,"color":"#5aaecb","opacity":1},"encoding":{"x":{"field":"q","type":"quantitative"},"y":{"field":"w","type":"quantitative"}}},
{"data":{"values":[{"q":3.1416,"w":1.435}]},"mark":{"type":"point","filled":true,"shape":"triangle-up","size":110,"color":"#f0b0c6","opacity":1},"encoding":{"x":{"field":"q","type":"quantitative"},"y":{"field":"w","type":"quantitative"}}},
{"data":{"values":[{"q":3.1416,"w":1.56}]},"mark":{"type":"point","filled":true,"shape":"triangle-down","size":110,"color":"#f0b0c6","opacity":1},"encoding":{"x":{"field":"q","type":"quantitative"},"y":{"field":"w","type":"quantitative"}}},
{"data":{"values":[{"q":3.1416,"w":1.597},{"q":3.1416,"w":1.403}]},"mark":{"type":"point","filled":true,"shape":"square","size":50,"color":"#1f0a87","opacity":1},"encoding":{"x":{"field":"q","type":"quantitative"},"y":{"field":"w","type":"quantitative"}}},
{"data":{"values":[{"q":3.1416,"w":1.5}]},"mark":{"type":"point","filled":true,"shape":"circle","size":85,"color":"#ef1a10","opacity":1},"encoding":{"x":{"field":"q","type":"quantitative"},"y":{"field":"w","type":"quantitative"}}},
{"data":{"name":"one"},"mark":{"type":"rect","filled":false,"stroke":"#555555","strokeWidth":1.2},
"encoding":{"x":{"datum":2.576,"type":"quantitative"},"x2":{"datum":3.2586},"y":{"datum":1.354,"type":"quantitative"},"y2":{"datum":1.651}}},
{"data":{"name":"keys"},"mark":{"type":"point","filled":true,"opacity":0},
"encoding":{
"x":{"datum":0,"type":"quantitative"},"y":{"datum":1.5,"type":"quantitative"},
"fill":{"field":"s","type":"nominal","sort":null,"scale":{"domain":["𝐴 = 0","𝐴 = 0.4","𝐴 = 𝐴","𝐴 = 1.1"],"range":["#5aaecb","#1f0a87","#ef1a10","#f0b0c6"]},
"legend":{"orient":"none","legendX":506,"legendY":9,"title":null,"strokeColor":"#666666","padding":4,"symbolSize":100,"symbolStrokeWidth":3,"symbolOpacity":1,"labelOffset":51,"labelFont":"DejaVu Serif","labelFontSize":17,"labelColor":"#222222","rowPadding":-4.5}},
"stroke":{"field":"s","type":"nominal","sort":null,"scale":{"domain":["𝐴 = 0","𝐴 = 0.4","𝐴 = 𝐴","𝐴 = 1.1"],"range":["#5aaecb","#1f0a87","#ef1a10","#f0b0c6"]},
"legend":{"orient":"none","legendX":506,"legendY":9,"title":null,"strokeColor":"#666666","padding":4,"symbolSize":100,"symbolStrokeWidth":3,"symbolOpacity":1,"labelOffset":51,"labelFont":"DejaVu Serif","labelFontSize":17,"labelColor":"#222222","rowPadding":-4.5}},
"shape":{"field":"s","type":"nominal","sort":null,"scale":{"domain":["𝐴 = 0","𝐴 = 0.4","𝐴 = 𝐴","𝐴 = 1.1"],"range":["M-1.4,0L10.4,0M4.5,-1.6L4.5,-1.6M4.5,1.6L4.5,1.6","M-1.4,0L10.4,0M6.1,0A1.6,1.6 0 1,1 2.9,0A1.6,1.6 0 1,1 6.1,0Z","M-1.4,0L10.4,0M6.1,0A1.6,1.6 0 1,1 2.9,0A1.6,1.6 0 1,1 6.1,0Z","M-1.4,0L10.4,0M6.1,0A1.6,1.6 0 1,1 2.9,0A1.6,1.6 0 1,1 6.1,0Z"]},
"legend":{"orient":"none","legendX":506,"legendY":9,"title":null,"strokeColor":"#666666","padding":4,"symbolSize":100,"symbolStrokeWidth":3,"symbolOpacity":1,"labelOffset":51,"labelFont":"DejaVu Serif","labelFontSize":17,"labelColor":"#222222","rowPadding":-4.5}}
}},
{"data":{"name":"one"},"mark":{"type":"text","text":"c","font":"DejaVu Serif","fontStyle":"italic","fontSize":12,"color":"#222222"},
"encoding":{"x":{"datum":3.034,"type":"quantitative"},"y":{"datum":2.152,"type":"quantitative"}}}
]
},
{
"layer":[
{"data":{"name":"one"},"mark":{"type":"rect","filled":false,"stroke":"#555555","strokeWidth":1.2},
"encoding":{"x":{"datum":0,"type":"quantitative"},"x2":{"datum":1.8},"y":{"datum":0,"type":"quantitative"},"y2":{"datum":3.99}}},
{"data":{"name":"gamma"},"mark":{"type":"line","stroke":"#1f0a87","strokeWidth":3},
"encoding":{
"x":{"field":"A","type":"quantitative","scale":{"domain":[0,1.8],"range":[111,548],"nice":false,"zero":false},
"axis":{"orient":"bottom","offset":-236,"title":null,"values":[0,0.5,1,1.5],"labelExpr":"datum.value==0?'0':datum.value==1?'1':datum.value==0.5?'0.5':'1.5'","labelFontSize":27,"labelColor":"#333333","labelPadding":11,"tickSize":-3,"tickColor":"#333333","domain":false,"labelFlush":false}},
"y":{"field":"g","type":"quantitative","scale":{"domain":[0,3.99],"range":[398,229],"nice":false,"zero":false},
"axis":{"orient":"left","offset":-111,"title":null,"values":[0,3.1416],"labelExpr":"datum.value==0?'0':'π'","labelFontSize":32,"labelColor":"#333333","labelPadding":15,"tickSize":0,"domain":false}}
}},
{"data":{"name":"one"},"mark":{"type":"rect","filled":false,"stroke":"#555555","strokeWidth":1.2},
"encoding":{"x":{"datum":1.28,"type":"quantitative"},"x2":{"datum":1.759},"y":{"datum":2.527,"type":"quantitative"},"y2":{"datum":3.779}}},
{"data":{"name":"one"},"mark":{"type":"rule","stroke":"#1f0a87","strokeWidth":2.5},
"encoding":{"x":{"datum":1.309,"type":"quantitative"},"x2":{"datum":1.566},"y":{"datum":3.15,"type":"quantitative"}}},
{"data":{"name":"one"},"mark":{"type":"text","text":"γ","font":"Liberation Serif","fontStyle":"italic","fontSize":32,"color":"#333333"},
"encoding":{"x":{"datum":1.685,"type":"quantitative"},"y":{"datum":3.05,"type":"quantitative"}}},
{"data":{"name":"one"},"mark":{"type":"text","text":"A","font":"Liberation Serif","fontStyle":"italic","fontSize":32,"color":"#333333"},
"encoding":{"x":{"datum":1.747,"type":"quantitative"},"y":{"datum":0.5,"type":"quantitative"}}},
{"data":{"name":"one"},"mark":{"type":"text","text":"A","font":"Liberation Serif","fontStyle":"italic","fontSize":32,"color":"#333333"},
"encoding":{"x":{"datum":0.859,"type":"quantitative"},"y":{"datum":-0.52,"type":"quantitative"}}},
{"data":{"name":"one"},"mark":{"type":"text","text":"c","font":"Liberation Sans","fontSize":20,"color":"#333333"},
"encoding":{"x":{"datum":0.954,"type":"quantitative"},"y":{"datum":-0.945,"type":"quantitative"}}}
]
}
],
"resolve":{"scale":{"x":"independent","y":"independent"},"axis":{"x":"independent","y":"independent"}}
},
{
"vconcat":[
{
"width":349.4,"height":293,
"view":{"fill":"#150e0c","stroke":"#aaaaaa"},
"layer":[
{"data":{"name":"topFine"},"mark":{"type":"rect","width":7.5,"height":7.3,"clip":true},
"encoding":{
"x":{"field":"n","type":"quantitative","axis":null,"scale":{"domain":[-0.5,47],"nice":false,"zero":false}},
"y":{"field":"t","type":"quantitative","scale":{"domain":[-0.05,5.06],"nice":false,"zero":false},
"axis":{"title":"t/T","titleFont":"Liberation Serif","titleFontStyle":"italic","titleFontWeight":"normal","titleFontSize":40,"titleColor":"#333333","titleBaseline":"middle","titleX":-65,"titleY":140,"values":[0,2.5,5],"labelExpr":"datum.value==2.5?'2.5':format(datum.value,'d')","labelFontSize":28,"labelColor":"#333333","labelPadding":5,"ticks":false,"domain":false}},
"color":{"field":"v","type":"quantitative","legend":null,"scale":{"domain":[0,0.089,0.179,0.268,0.358,0.447,0.51,0.626,0.706,0.805,0.894],"range":["#0a0606","#2c0b09","#6f0d0b","#b50f0d","#ff180c","#f9510e","#f28a12","#f5c40f","#f5f015","#f2f2a0","#ffffff"],"clamp":true}}
}},
{"data":{"name":"topCoarse"},"mark":{"type":"rect","width":7.5,"height":20.2,"clip":true},
"encoding":{"x":{"field":"n","type":"quantitative","axis":null},"y":{"field":"t","type":"quantitative"},"color":{"field":"v","type":"quantitative","legend":null}}},
{"data":{"name":"topRays"},"mark":{"type":"rule","strokeWidth":1,"clip":true},
"encoding":{"x":{"field":"a","type":"quantitative","axis":null},"x2":{"field":"b"},"y":{"field":"t","type":"quantitative"},"y2":{"field":"u"},"color":{"field":"v","type":"quantitative","legend":null}}},
{"data":{"values":[{"n":-0.5,"t":0.11},{"n":47,"t":0.49}]},"mark":{"type":"area","clip":true,"color":"#030101"},
"encoding":{"x":{"field":"n","type":"quantitative","axis":null},"y":{"field":"t","type":"quantitative"},"y2":{"datum":-0.05}}},
{"data":{"name":"one"},"mark":{"type":"rect","stroke":"#aaaaaa","strokeWidth":1,"fill":{"x1":0,"y1":1,"x2":0,"y2":0,"gradient":"linear","stops":[{"offset":0,"color":"#0a0606"},{"offset":0.1,"color":"#2c0b09"},{"offset":0.2,"color":"#6f0d0b"},{"offset":0.3,"color":"#b50f0d"},{"offset":0.4,"color":"#ff180c"},{"offset":0.5,"color":"#f9510e"},{"offset":0.57,"color":"#f28a12"},{"offset":0.7,"color":"#f5c40f"},{"offset":0.79,"color":"#f5f015"},{"offset":0.9,"color":"#f2f2a0"},{"offset":1,"color":"#ffffff"}]}},
"encoding":{"x":{"datum":48.71,"type":"quantitative"},"x2":{"datum":51.35},"y":{"datum":-0.05,"type":"quantitative"},"y2":{"datum":5.06}}},
{"data":{"name":"one"},"mark":{"type":"rule","strokeWidth":1,"color":"#555555"},
"encoding":{"x":{"datum":50.9,"type":"quantitative"},"x2":{"datum":51.35},"y":{"datum":2.815,"type":"quantitative"}}},
{"data":{"name":"one"},"mark":{"type":"text","text":"×10","align":"left","fontSize":28,"color":"#333333"},
"encoding":{"x":{"datum":-0.5,"type":"quantitative"},"y":{"datum":5.25,"type":"quantitative"}}},
{"data":{"name":"one"},"mark":{"type":"text","text":"2","align":"left","fontSize":24,"color":"#333333"},
"encoding":{"x":{"datum":6.3,"type":"quantitative"},"y":{"datum":5.47,"type":"quantitative"}}},
{"data":{"name":"one"},"mark":{"type":"text","text":"0.5","align":"left","fontSize":28,"color":"#333333"},
"encoding":{"x":{"datum":51.8,"type":"quantitative"},"y":{"datum":2.728,"type":"quantitative"}}},
{"data":{"name":"one"},"mark":{"type":"text","text":"0","align":"left","fontSize":28,"color":"#333333"},
"encoding":{"x":{"datum":51.5,"type":"quantitative"},"y":{"datum":0.02,"type":"quantitative"}}},
{"data":{"name":"one"},"mark":{"type":"text","text":"A","align":"left","font":"Liberation Serif","fontStyle":"italic","fontSize":28,"color":"#333333"},
"encoding":{"x":{"datum":51.8,"type":"quantitative"},"y":{"datum":4.97,"type":"quantitative"}}},
{"data":{"name":"one"},"mark":{"type":"text","text":"c","align":"left","font":"Liberation Serif","fontStyle":"italic","fontSize":20,"color":"#333333"},
"encoding":{"x":{"datum":54.2,"type":"quantitative"},"y":{"datum":4.85,"type":"quantitative"}}}
]
},
{
"width":353.4,"height":295.3,
"view":{"fill":"#140908","stroke":"#aaaaaa"},
"layer":[
{"data":{"name":"botCells"},"mark":{"type":"rect","width":22.4,"height":22.8,"clip":true},
"encoding":{
"x":{"field":"n","type":"quantitative","scale":{"domain":[-0.5,47],"nice":false,"zero":false},
"axis":{"title":"n","titleFont":"Liberation Serif","titleFontWeight":"normal","titleFontSize":46,"titleColor":"#333333","titleBaseline":"middle","titleX":167,"titleY":38,"values":[15,30,45],"labelFontSize":28,"labelColor":"#333333","labelPadding":3,"labelOffset":2.5,"ticks":false,"domain":false}},
"y":{"field":"t","type":"quantitative","scale":{"domain":[-0.018,5.18],"nice":false,"zero":false},
"axis":{"title":"t/T","titleFont":"Liberation Serif","titleFontStyle":"italic","titleFontWeight":"normal","titleFontSize":40,"titleColor":"#333333","titleBaseline":"middle","titleX":-65,"titleY":146,"values":[0,2.5,5],"labelExpr":"datum.value==2.5?'2.5':format(datum.value,'d')","labelFontSize":28,"labelColor":"#333333","labelPadding":5,"ticks":false,"domain":false}},
"color":{"field":"v","type":"quantitative","legend":null,"scale":{"domain":[0,0.16,0.32,0.48,0.64,0.8,0.912,1.12,1.264,1.44,1.6],"range":["#0a0606","#2c0b09","#6f0d0b","#b50f0d","#ff180c","#f9510e","#f28a12","#f5c40f","#f5f015","#f2f2a0","#ffffff"],"clamp":true}}
}},
{"data":{"name":"botRays"},"mark":{"type":"rule","strokeWidth":1,"clip":true},
"encoding":{"x":{"field":"a","type":"quantitative"},"x2":{"field":"b"},"y":{"field":"t","type":"quantitative"},"y2":{"field":"u"},"color":{"field":"v","type":"quantitative","legend":null}}},
{"data":{"values":[{"n":-0.5,"t":0.09},{"n":47,"t":0.38}]},"mark":{"type":"area","clip":true,"color":"#030101"},
"encoding":{"x":{"field":"n","type":"quantitative"},"y":{"field":"t","type":"quantitative"},"y2":{"datum":-0.018}}},
{"data":{"name":"one"},"mark":{"type":"rect","stroke":"#aaaaaa","strokeWidth":1,"fill":{"x1":0,"y1":1,"x2":0,"y2":0,"gradient":"linear","stops":[{"offset":0,"color":"#0a0606"},{"offset":0.1,"color":"#2c0b09"},{"offset":0.2,"color":"#6f0d0b"},{"offset":0.3,"color":"#b50f0d"},{"offset":0.4,"color":"#ff180c"},{"offset":0.5,"color":"#f9510e"},{"offset":0.57,"color":"#f28a12"},{"offset":0.7,"color":"#f5c40f"},{"offset":0.79,"color":"#f5f015"},{"offset":0.9,"color":"#f2f2a0"},{"offset":1,"color":"#ffffff"}]}},
"encoding":{"x":{"datum":48.16,"type":"quantitative"},"x2":{"datum":50.76},"y":{"datum":-0.018,"type":"quantitative"},"y2":{"datum":5.18}}},
{"data":{"name":"one"},"mark":{"type":"rule","strokeWidth":1,"color":"#555555"},
"encoding":{"x":{"datum":50.3,"type":"quantitative"},"x2":{"datum":50.76},"y":{"datum":2.89,"type":"quantitative"}}},
{"data":{"name":"one"},"mark":{"type":"rule","strokeWidth":1,"color":"#555555"},
"encoding":{"x":{"datum":50.3,"type":"quantitative"},"x2":{"datum":50.76},"y":{"datum":4.87,"type":"quantitative"}}},
{"data":{"name":"one"},"mark":{"type":"text","text":"×10","align":"left","fontSize":28,"color":"#333333"},
"encoding":{"x":{"datum":-0.5,"type":"quantitative"},"y":{"datum":5.4,"type":"quantitative"}}},
{"data":{"name":"one"},"mark":{"type":"text","text":"2","align":"left","fontSize":24,"color":"#333333"},
"encoding":{"x":{"datum":6.3,"type":"quantitative"},"y":{"datum":5.6,"type":"quantitative"}}},
{"data":{"name":"one"},"mark":{"type":"text","text":"1.5","align":"left","fontSize":28,"color":"#333333"},
"encoding":{"x":{"datum":51.07,"type":"quantitative"},"y":{"datum":4.87,"type":"quantitative"}}},
{"data":{"name":"one"},"mark":{"type":"text","text":"0","align":"left","fontSize":28,"color":"#333333"},
"encoding":{"x":{"datum":51.7,"type":"quantitative"},"y":{"datum":0.03,"type":"quantitative"}}},
{"data":{"name":"one"},"mark":{"type":"text","text":"A","align":"left","font":"Liberation Serif","fontStyle":"italic","fontSize":28,"color":"#333333"},
"encoding":{"x":{"datum":51.7,"type":"quantitative"},"y":{"datum":2.875,"type":"quantitative"}}},
{"data":{"name":"one"},"mark":{"type":"text","text":"c","align":"left","font":"Liberation Serif","fontStyle":"italic","fontSize":20,"color":"#333333"},
"encoding":{"x":{"datum":54.3,"type":"quantitative"},"y":{"datum":2.75,"type":"quantitative"}}}
]
}
],
"spacing":48,
"bounds":"flush",
"resolve":{"scale":{"color":"independent"}}
}
],
"spacing":130.3,
"bounds":"flush",
"resolve":{"scale":{"color":"independent"}}
}
